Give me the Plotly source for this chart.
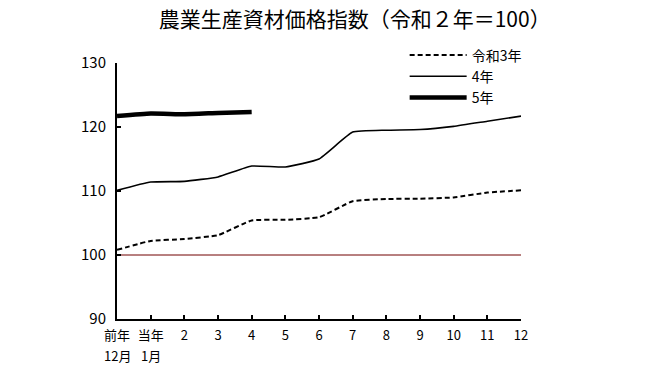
import plotly.graph_objects as go

categories = ["前年", "当年", "2", "3", "4", "5", "6", "7", "8", "9", "10", "11", "12"]
category_sublabels = ["12月", "1月"]
r3_values = [100.8, 102.2, 102.5, 103.1, 105.4, 105.5, 105.9, 108.4, 108.75, 108.8, 109.0, 109.75, 110.1]
r4_values = [110.1, 111.4, 111.5, 112.2, 113.9, 113.75, 115.0, 119.2, 119.5, 119.6, 120.1, 120.9, 121.7]
r5_values = [121.7, 122.1, 122.0, 122.2, 122.35]
series_names = ["令和3年", "4年", "5年"]
y_ticks = [90, 100, 110, 120, 130]
base_value = 100

FONT = "Noto Sans CJK JP, Noto Sans, sans-serif"
xs = list(range(len(categories)))

fig = go.Figure()
fig.add_trace(go.Scatter(x=xs, y=r3_values, mode="lines", name=series_names[0],
                         line=dict(color="black", width=2, dash="5px,3px", shape="spline", smoothing=0.4)))
fig.add_trace(go.Scatter(x=xs, y=r4_values, mode="lines", name=series_names[1],
                         line=dict(color="black", width=1.6, shape="spline", smoothing=0.4)))
fig.add_trace(go.Scatter(x=xs[:len(r5_values)], y=r5_values, mode="lines", name=series_names[2],
                         line=dict(color="black", width=4.5, shape="spline", smoothing=0.4)))

fig.add_shape(type="line", xref="x", yref="y", x0=0, x1=len(categories) - 1, y0=base_value, y1=base_value,
              line=dict(color="#700000", width=1), layer="below")

for i, sub in enumerate(category_sublabels):
    fig.add_annotation(x=xs[i], xref="x", y=0, yref="paper", yshift=-36, yanchor="middle",
                       xanchor="center", text=sub, showarrow=False, font=dict(size=13, family=FONT))

fig.update_layout(
    width=642, height=358,
    margin=dict(l=109, r=129, t=55, b=47, autoexpand=False),
    paper_bgcolor="white", plot_bgcolor="white",
    font=dict(family=FONT, size=13, color="black"),
    title=dict(text="農業生産資材価格指数（令和２年＝100）", xref="container", x=0.540, xanchor="center",
               yref="container", y=0.988, yanchor="top", pad=dict(t=0, b=0),
               font=dict(size=21, family=FONT, color="black")),
    showlegend=True,
    legend=dict(x=0.712, y=1.092, xanchor="left", yanchor="top", bgcolor="rgba(0,0,0,0)",
                font=dict(size=14, family=FONT), itemwidth=57, tracegroupgap=0),
    xaxis=dict(range=[0, len(categories) - 1], tickmode="array", tickvals=xs, ticktext=categories,
               showline=True, linecolor="black", linewidth=2, ticks="inside", ticklen=4, tickwidth=1.5,
               tickcolor="black", showgrid=False, zeroline=False, tickfont=dict(size=13), automargin=False,
               ticklabelstandoff=3),
    yaxis=dict(range=[90, 130], tickmode="array", tickvals=y_ticks,
               showline=True, linecolor="black", linewidth=2, ticks="inside", ticklen=4, tickwidth=1.5,
               tickcolor="black", showgrid=False, zeroline=False, tickfont=dict(size=15), automargin=False,
               ticklabelstandoff=6),
)
for tr in fig.data:
    tr.cliponaxis = False

fig.write_html("out.html")
